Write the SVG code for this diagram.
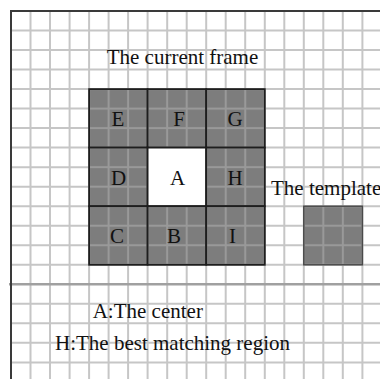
<svg xmlns="http://www.w3.org/2000/svg" width="380" height="379" viewBox="0 0 380 379">
<defs>
<pattern id="gp" patternUnits="userSpaceOnUse" x="11" y="11" width="19.52" height="19.52">
<rect x="0" y="0" width="19.52" height="19.52" fill="#7d7d7d"/>
<rect x="0" y="0" width="1" height="19.52" fill="#999999"/>
<rect x="18.52" y="0" width="1" height="19.52" fill="#999999"/>
<rect x="0" y="0" width="19.52" height="1" fill="#999999"/>
<rect x="0" y="18.52" width="19.52" height="1" fill="#999999"/>
</pattern>
</defs>
<style>
.cell{fill:url(#gp);stroke:#1e1e1e;stroke-width:1.8}
.center{fill:#ffffff;stroke:#1e1e1e;stroke-width:1.8}
.tpl{fill:url(#gp);stroke:#4a4a4a;stroke-width:1.5}
.grid line{stroke:#c6c6c6;stroke-width:2}
.grid .sep{stroke:#a0a0a0;stroke-width:2.4}
.grid .border{stroke:#3a3a3a;stroke-width:2;fill:none}
text{font-family:"Liberation Serif","Times New Roman",serif;font-size:21px;fill:#111111}
.lbl{text-anchor:middle}
</style>
<rect x="0" y="0" width="380" height="379" fill="#ffffff"/>
<g id="connectors" class="grid">
<line x1="30.5" y1="11" x2="30.5" y2="379"/>
<line x1="50" y1="11" x2="50" y2="379"/>
<line x1="69.6" y1="11" x2="69.6" y2="379"/>
<line x1="89.1" y1="11" x2="89.1" y2="379"/>
<line x1="108.6" y1="11" x2="108.6" y2="379"/>
<line x1="128.1" y1="11" x2="128.1" y2="379"/>
<line x1="147.6" y1="11" x2="147.6" y2="379"/>
<line x1="167.2" y1="11" x2="167.2" y2="379"/>
<line x1="186.7" y1="11" x2="186.7" y2="379"/>
<line x1="206.2" y1="11" x2="206.2" y2="379"/>
<line x1="225.7" y1="11" x2="225.7" y2="379"/>
<line x1="245.2" y1="11" x2="245.2" y2="379"/>
<line x1="264.8" y1="11" x2="264.8" y2="379"/>
<line x1="284.3" y1="11" x2="284.3" y2="379"/>
<line x1="303.8" y1="11" x2="303.8" y2="379"/>
<line x1="323.3" y1="11" x2="323.3" y2="379"/>
<line x1="342.8" y1="11" x2="342.8" y2="379"/>
<line x1="362.4" y1="11" x2="362.4" y2="379"/>
<line x1="11" y1="30.5" x2="380" y2="30.5"/>
<line x1="11" y1="50" x2="380" y2="50"/>
<line x1="11" y1="69.6" x2="380" y2="69.6"/>
<line x1="11" y1="89.1" x2="380" y2="89.1"/>
<line x1="11" y1="108.6" x2="380" y2="108.6"/>
<line x1="11" y1="128.1" x2="380" y2="128.1"/>
<line x1="11" y1="147.6" x2="380" y2="147.6"/>
<line x1="11" y1="167.2" x2="380" y2="167.2"/>
<line x1="11" y1="186.7" x2="380" y2="186.7"/>
<line x1="11" y1="206.2" x2="380" y2="206.2"/>
<line x1="11" y1="225.7" x2="380" y2="225.7"/>
<line x1="11" y1="245.2" x2="380" y2="245.2"/>
<line x1="11" y1="264.8" x2="380" y2="264.8"/>
<line x1="11" y1="303.8" x2="380" y2="303.8"/>
<line x1="11" y1="323.3" x2="380" y2="323.3"/>
<line x1="11" y1="342.8" x2="380" y2="342.8"/>
<line x1="11" y1="362.4" x2="380" y2="362.4"/>
<line class="sep" x1="9" y1="284.3" x2="380" y2="284.3"/>
<path class="border" d="M11 379V11H380"/>
</g>
<g id="frame">
<g id="cell-E"><rect class="cell" x="89.1" y="89.1" width="58.5" height="58.5"/><text class="lbl" x="118" y="125.5">E</text></g>
<g id="cell-F"><rect class="cell" x="147.6" y="89.1" width="58.6" height="58.5"/><text class="lbl" x="179" y="125.5">F</text></g>
<g id="cell-G"><rect class="cell" x="206.2" y="89.1" width="58.6" height="58.5"/><text class="lbl" x="235" y="125.5">G</text></g>
<g id="cell-D"><rect class="cell" x="89.1" y="147.6" width="58.5" height="58.6"/><text class="lbl" x="118.5" y="184.5">D</text></g>
<g id="cell-A"><rect class="center" x="147.6" y="147.6" width="58.6" height="58.6"/><text class="lbl" x="177.5" y="184.5">A</text></g>
<g id="cell-H"><rect class="cell" x="206.2" y="147.6" width="58.6" height="58.6"/><text class="lbl" x="235" y="184.5">H</text></g>
<g id="cell-C"><rect class="cell" x="89.1" y="206.2" width="58.5" height="58.6"/><text class="lbl" x="117" y="243">C</text></g>
<g id="cell-B"><rect class="cell" x="147.6" y="206.2" width="58.6" height="58.6"/><text class="lbl" x="174" y="243">B</text></g>
<g id="cell-I"><rect class="cell" x="206.2" y="206.2" width="58.6" height="58.6"/><text class="lbl" x="232.5" y="243">I</text></g>
</g>
<g id="template"><rect class="tpl" x="303.8" y="206.2" width="58.6" height="58.6"/></g>
<text x="106.7" y="64">The current frame</text>
<text x="271" y="195" font-size="20">The template</text>
<text x="92.7" y="318">A:The center</text>
<text x="55" y="350">H:The best matching region</text>
</svg>
